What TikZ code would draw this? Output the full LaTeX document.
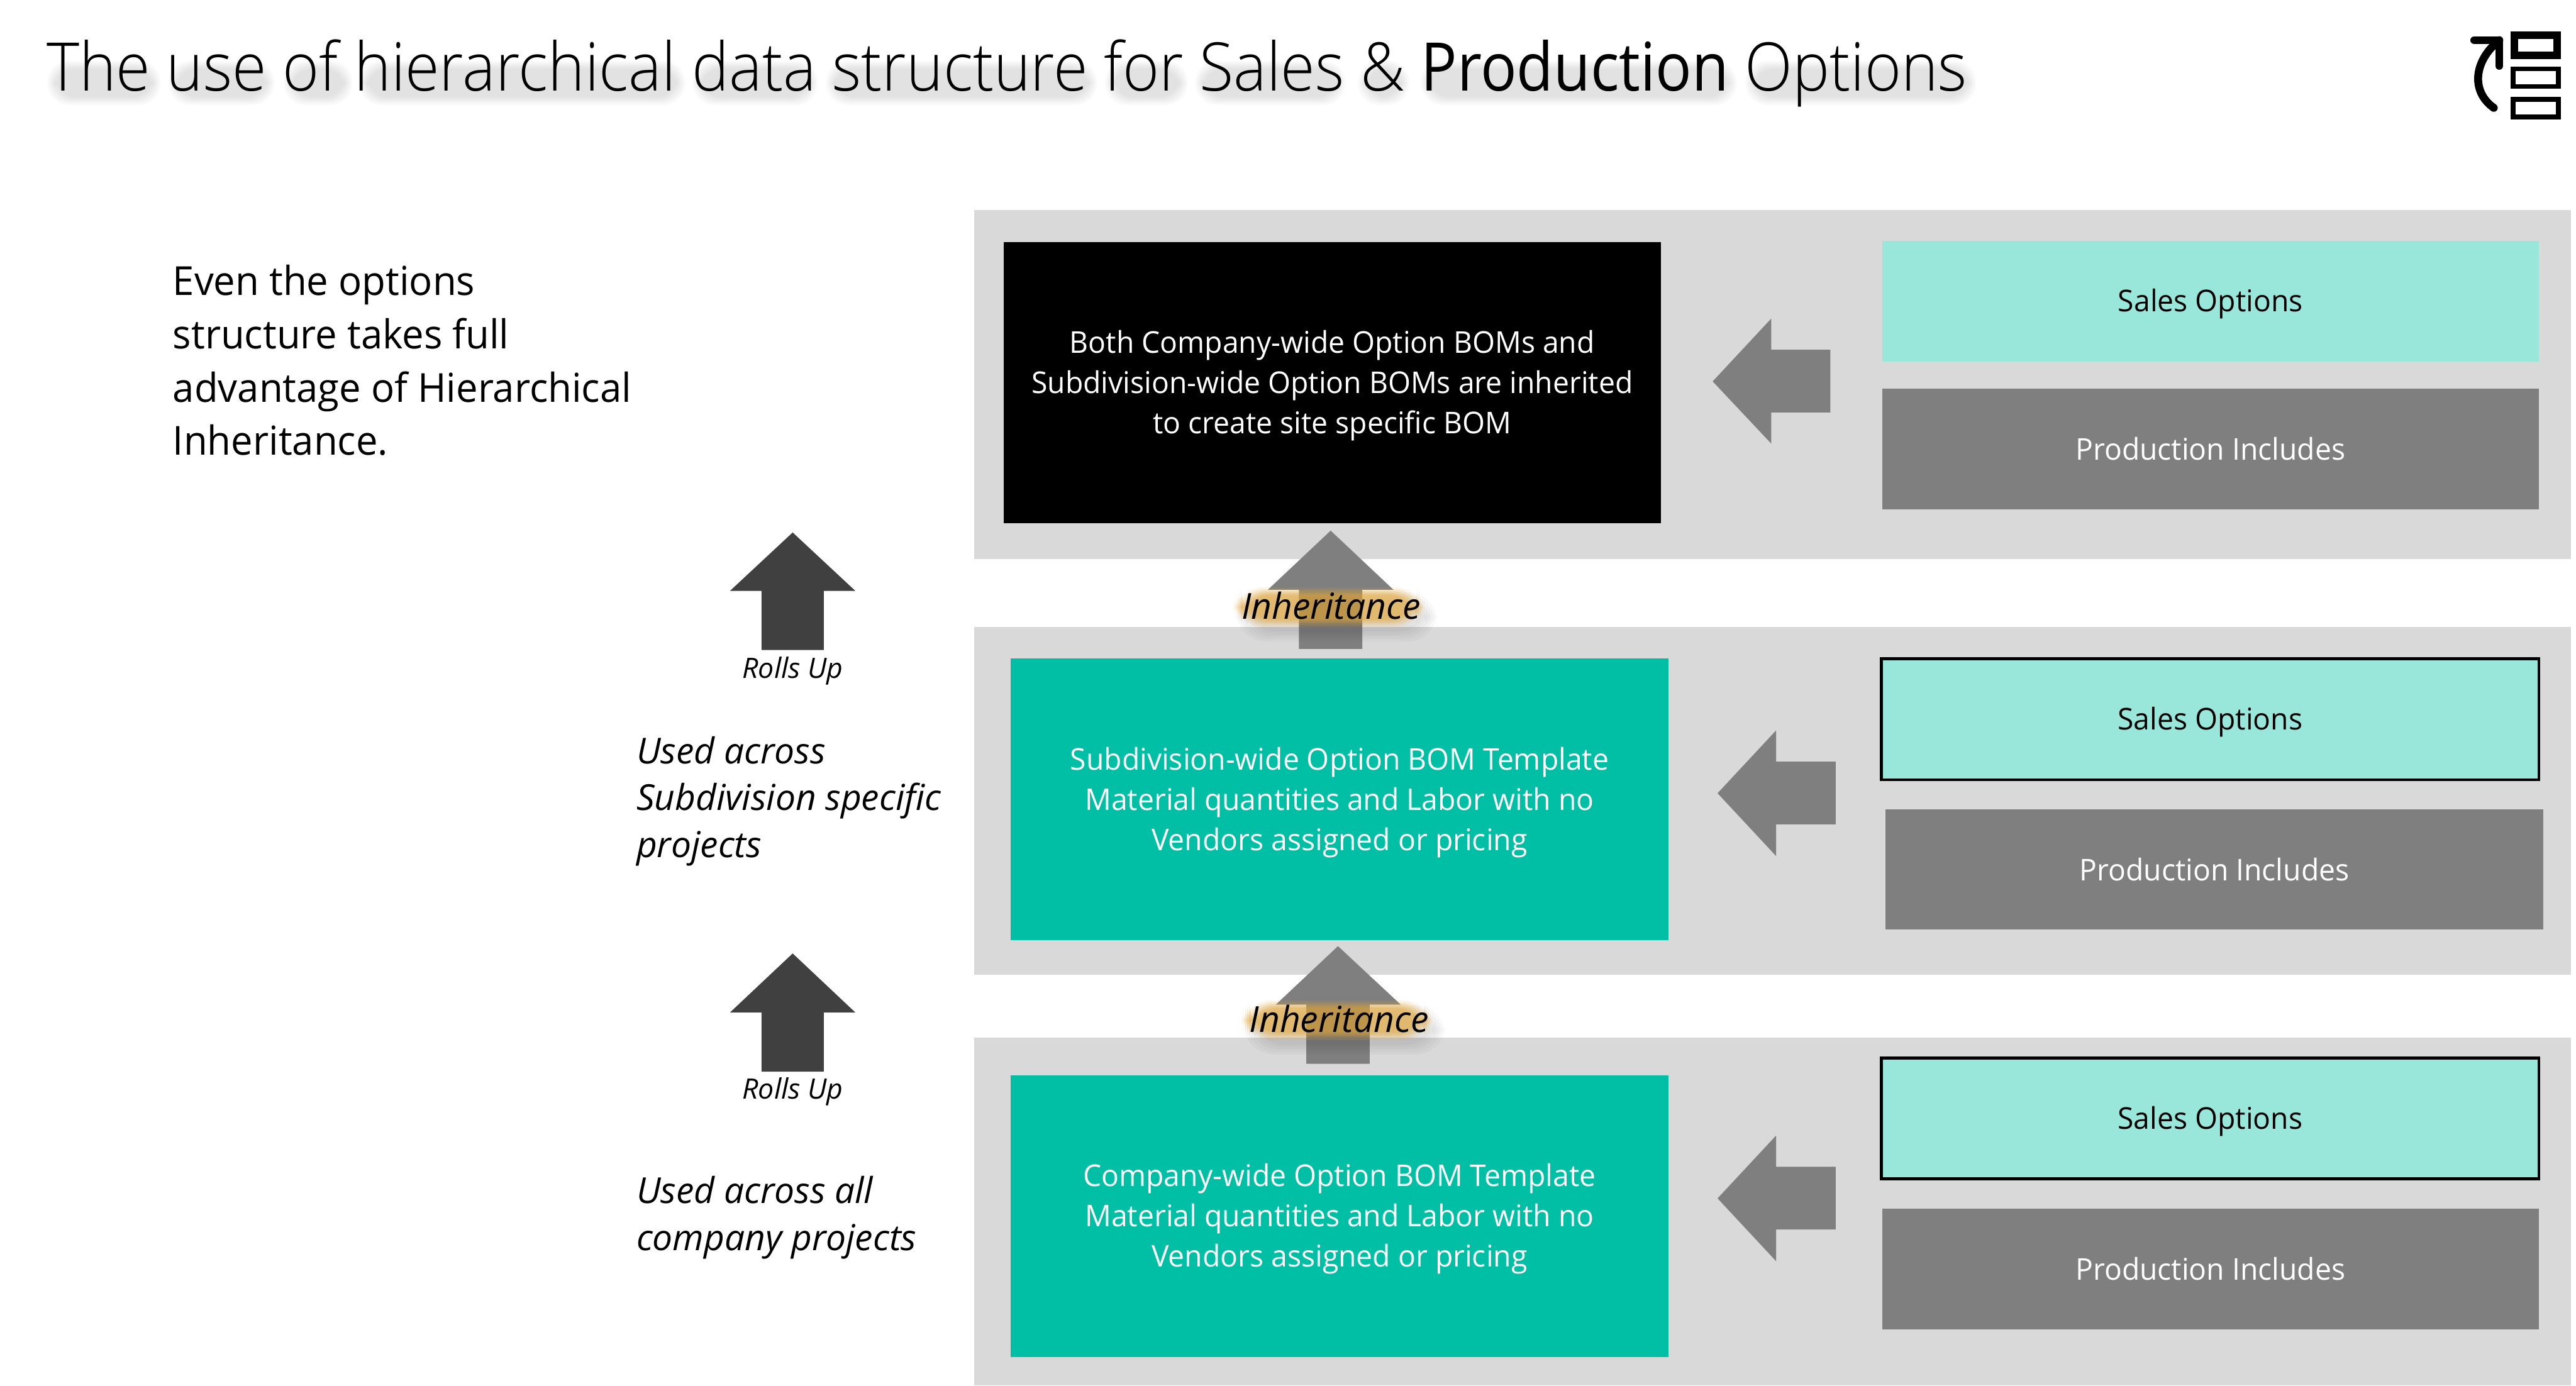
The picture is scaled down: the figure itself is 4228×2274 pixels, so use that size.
\documentclass[tikz,border=0pt]{standalone}
\usepackage{fontspec}
\setmainfont{Open Sans}[FakeStretch=0.97,ItalicFeatures={FakeStretch=1.0}]
\newfontfamily\lightf{Open Sans Light}[FakeStretch=0.93]
\newfontfamily\regf{Open Sans}[FakeStretch=0.896]
\definecolor{panelgray}{HTML}{D9D9D9}
\definecolor{tealbox}{HTML}{00BFA5}
\definecolor{mintbox}{HTML}{99E6DA}
\definecolor{prodgray}{HTML}{7F7F7F}
\definecolor{darkarrow}{HTML}{404040}
\definecolor{glowc}{HTML}{E0A63C}
\newcommand{\pxbox}[8]{% name x0 y0 x1 y1 box-style text-style text
  \node[basebox,#6,minimum width={(#4-#2)*0.01cm},minimum height={(#5-#3)*0.01cm}] (#1) at ({(#2+#4)/2},{(#3+#5)/2}) {};
  \node[boxtext,#7] (#1-text) at (#1.center) {#8};}
\newcommand{\uparrowshape}[8]{% fill tipx tipy headL headR shaftL shaftR baseY, bottom from \botY
  \fill[#1] (#2,#3) -- (#5,#8) -- (#7,#8) -- (#7,\botY) -- (#6,\botY) -- (#6,#8) -- (#4,#8) -- cycle;}
\newcommand{\leftarrowshape}[8]{% tipx tipy headx top bottom shaftright shafttop shaftbottom
  \fill[prodgray] (#1,#2) -- (#3,#4) -- (#3,#7) -- (#6,#7) -- (#6,#8) -- (#3,#8) -- (#3,#5) -- cycle;}
\newcommand{\glowlabel}[4]{% name x-left baseline text
  \foreach \g in {16,12,8,4,0}{
    \fill[black,opacity=.025,rounded corners=14] ({#2+8-\g},{#3-40-\g+12}) rectangle ({#2+296+\g+10},{#3+9+\g+12});
  }
  \foreach \g/\o in {9/.12,6/.16,3/.22,0/.26,-3/.28}{
    \fill[glowc,opacity=\o,rounded corners=14] ({#2-3-\g},{#3-43-\g}) rectangle ({#2+292+\g},{#3+4+\g});
  }
  \node[inheritlabel] (#1) at (#2,#3) {#4};}
\tikzset{
 basebox/.style={rectangle,inner sep=0},
 boxtext/.style={inner sep=0,align=center,font=\fontsize{14}{18.78}\selectfont},
 panel/.style={fill=panelgray},
 blackbox/.style={fill=black},
 tealnode/.style={fill=tealbox},
 salesbox/.style={fill=mintbox},
 salesoutline/.style={fill=mintbox,draw=black,line width=0.05cm},
 prodbox/.style={fill=prodgray},
 whitedown/.style={text=white,yshift=-0.05cm},
 blackdown/.style={text=black,yshift=-0.05cm},
 whitelevel/.style={text=white},
 inheritlabel/.style={anchor=base west,inner sep=0,font=\fontsize{16.75}{20}\selectfont\itshape},
 rollslabel/.style={anchor=base,inner sep=0,font=\fontsize{13.1}{15}\selectfont\itshape},
 usedlabel/.style={anchor=north west,inner sep=0,align=left,font=\fontsize{16.7}{21.9}\selectfont\itshape},
 evenlabel/.style={anchor=north west,inner sep=0,align=left,font=\fontsize{18.65}{24.9}\selectfont},
 iconrect/.style={draw=black,line width=#1,fill=none},
 iconline/.style={draw=black,line width=0.13cm,line cap=round,line join=round},
}
\begin{document}
\begin{tikzpicture}[x=0.01cm,y=-0.01cm]
\useasboundingbox (0,0) rectangle (4228,2274);
% panels
\pxbox{panelA}{1599}{345}{4220}{918}{panel}{}{}
\pxbox{panelB}{1599}{1029}{4220}{1600}{panel}{}{}
\pxbox{panelC}{1599}{1703}{4220}{2274}{panel}{}{}
% soft title shadow, word by word (reference-pixel ranges)
\foreach \a/\b in {76/245,275/432,464/560,588/1106,1135/1324,1354/1782,1812/1931,1960/2190,2227/2295,2330/2832,2863/3225}{
  \foreach \g in {12,9,6,3,0}{
    \fill[black,opacity=.022,rounded corners=10] ({\a+14-\g},{112-\g}) rectangle ({\b+6+\g},{160+\g});
  }
}
% title
\node[anchor=base west,inner sep=0,font=\fontsize{31.3}{36}\selectfont] (title) at (76,149) {\lightf The use of hierarchical data structure for Sales \& {\regf Production} Options};
% icon
\draw[iconrect=0.12cm] (4127,58) rectangle (4197,91);
\draw[iconrect=0.08cm] (4125,113) rectangle (4199,142);
\draw[iconrect=0.08cm] (4125,163) rectangle (4199,192);
\draw[iconline] (4061,66) -- (4102,66) -- (4102,108);
\draw[iconline] (4102,66) .. controls (4060,100) and (4055,150) .. (4093,177);
% main boxes
\pxbox{topbom}{1647}{397}{2726}{859}{blackbox}{whitedown}{Both Company-wide Option BOMs and\\Subdivision-wide Option BOMs are inherited\\to create site specific BOM}
\pxbox{midbom}{1659}{1081}{2738}{1543}{tealnode}{whitedown}{Subdivision-wide Option BOM Template\\Material quantities and Labor with no\\Vendors assigned or pricing}
\pxbox{lowbom}{1659}{1765}{2738}{2227}{tealnode}{whitedown}{Company-wide Option BOM Template\\Material quantities and Labor with no\\Vendors assigned or pricing}
\pxbox{salesA}{3089}{395}{4167}{593}{salesbox}{blackdown}{Sales Options}
\pxbox{prodA}{3089}{638}{4167}{836}{prodbox}{whitelevel}{Production Includes}
\pxbox{salesB}{3088}{1081}{4167}{1280}{salesoutline}{blackdown}{Sales Options}
\pxbox{prodB}{3095}{1328}{4174}{1526}{prodbox}{whitelevel}{Production Includes}
\pxbox{salesC}{3088}{1737}{4167}{1935}{salesoutline}{blackdown}{Sales Options}
\pxbox{prodC}{3089}{1984}{4167}{2182}{prodbox}{whitelevel}{Production Includes}
% block arrows
\leftarrowshape{2811}{626}{2907}{523}{728}{3004}{574}{677}
\leftarrowshape{2819}{1302}{2915}{1199}{1405}{3013}{1250}{1353}
\leftarrowshape{2819}{1967}{2915}{1864}{2070}{3013}{1915}{2018}
\def\botY{1065}\uparrowshape{prodgray}{2184}{871}{2081}{2287}{2132}{2236}{968}
\def\botY{1746}\uparrowshape{prodgray}{2196}{1553}{2094}{2299}{2144}{2248}{1649}
\def\botY{1067}\uparrowshape{darkarrow}{1301}{874}{1198}{1404}{1250}{1352}{970}
\def\botY{1759}\uparrowshape{darkarrow}{1301}{1565}{1198}{1404}{1250}{1352}{1662}
% labels
\glowlabel{inheritA}{2037}{1016}{Inheritance}
\glowlabel{inheritB}{2050}{1694}{Inheritance}
\node[rollslabel] (rollsA) at (1301,1113) {Rolls Up};
\node[rollslabel] (rollsB) at (1301,1804) {Rolls Up};
\node[usedlabel] (usedB) at (1044,1208) {Used across\\Subdivision specific\\projects};
\node[usedlabel] (usedC) at (1044,1930) {Used across all\\company projects};
\node[evenlabel] (even) at (283,434) {Even the options\\structure takes full\\advantage of Hierarchical\\Inheritance.};
\end{tikzpicture}
\end{document}
